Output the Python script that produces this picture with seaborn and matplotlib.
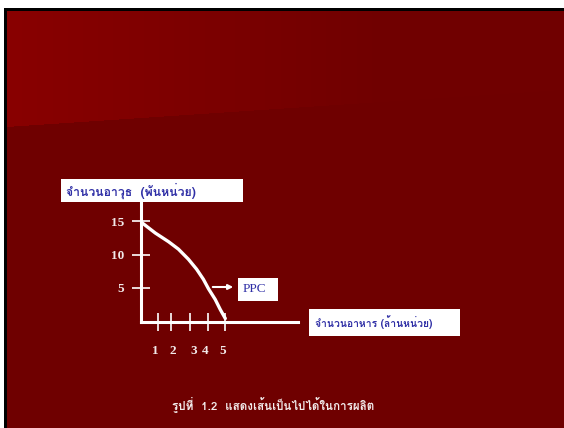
import numpy as np
import pandas as pd
import matplotlib
matplotlib.use("Agg")
import matplotlib.pyplot as plt
import seaborn as sns
from matplotlib import font_manager
from matplotlib.patches import Rectangle, FancyArrowPatch

# ---- data ----
food = [0.0, 0.85, 1.64, 2.22, 2.81, 3.3, 3.7, 4.0, 4.4, 4.7, 5.0]        # ล้านหน่วย
weapons = [14.85, 13.2, 11.9, 10.8, 9.3, 7.8, 6.3, 4.9, 3.3, 1.8, 0.45]   # พันหน่วย
x_tick_marks = [1.0, 1.8, 2.9, 3.98, 5.0]
x_label_pos = [0.83, 1.9, 3.15, 3.8, 4.82]
x_labels = ["1", "2", "3", "4", "5"]
y_ticks = [5, 10, 15]
y_labels = ["5", "10", "15"]
y_title = "จำนวนอาวุธ  (พันหน่วย)"
x_title = "จำนวนอาหาร (ล้านหน่วย)"
curve_name = "PPC"
caption = "รูปที่  1.2  แสดงเส้นเป็นไปได้ในการผลิต"

# ---- find a font with Thai glyphs (prefer one with a bold face) ----
def find_thai_font():
    try:
        from fontTools.ttLib import TTFont
    except Exception:
        return None
    weights = {}
    for f in font_manager.fontManager.ttflist:
        try:
            tt = TTFont(f.fname, fontNumber=0, lazy=True)
            cmap = tt.getBestCmap()
            if cmap and 0x0E08 in cmap and 0x0E33 in cmap:
                w = f.weight if isinstance(f.weight, int) else 400
                weights.setdefault(f.name, set()).add(w)
        except Exception:
            pass
    if not weights:
        return None
    pref = ["Norasi", "Noto Serif Thai", "Kinnari", "TH Sarabun New", "Loma",
            "Noto Sans Thai", "Garuda", "Tlwg Typo"]
    bold = [n for n in weights if max(weights[n]) >= 600]
    for p in pref:
        if p in bold:
            return p
    if bold:
        return bold[0]
    for p in pref:
        if p in weights:
            return p
    return next(iter(weights))

thai = find_thai_font()
thai_fam = ([thai] if thai else []) + ["Liberation Serif", "DejaVu Sans"]
serif = ["Liberation Serif", "DejaVu Serif"]

sns.set_theme(style="white")
plt.rcParams["font.family"] = serif

W, H = 564, 428
fig = plt.figure(figsize=(W / 100, H / 100), dpi=100)
fig.patch.set_facecolor("white")

# ---- slide background ----
bg = fig.add_axes([0, 0, 1, 1], zorder=0)
X, Y = np.meshgrid(np.arange(W) + 0.5, np.arange(H) + 0.5)
c_left = np.array([0x89, 0x00, 0x00]) / 255
c_right = np.array([0x70, 0x00, 0x00]) / 255
c_low = np.array([0x6f, 0x00, 0x00]) / 255
t = np.clip((X - 7) / 380.0, 0, 1)[..., None]
grad = c_left * (1 - t) + c_right * t
boundary = 127 - 0.0667 * (X - 7)
img = np.where((Y < boundary)[..., None], grad, c_low)
img[(X < 7) | (Y < 11)] = 0.0
img[(X < 4) | (Y < 8)] = 1.0
bg.imshow(img, extent=(0, W, H, 0), aspect="auto", interpolation="nearest")
bg.set_xlim(0, W)
bg.set_ylim(H, 0)
bg.axis("off")

# ---- chart axes ----
px_x, px_y = 16.86, 6.7
x0, y0 = 141, 321.5
ax_w, ax_h = 157, 120.5
ax = fig.add_axes([x0 / W, (H - y0) / H, ax_w / W, ax_h / H], zorder=2)
ax.patch.set_alpha(0)
df = pd.DataFrame({"food": food, "weapons": weapons})
sns.lineplot(data=df, x="food", y="weapons", sort=False, color="white",
             linewidth=2.4, ax=ax)
ax.set_xlim(0, ax_w / px_x)
ax.set_ylim(0, ax_h / px_y)
for s in ["top", "right"]:
    ax.spines[s].set_visible(False)
for s in ["left", "bottom"]:
    ax.spines[s].set_color("white")
    ax.spines[s].set_linewidth(2.2)
ax.set_xlabel("")
ax.set_ylabel("")

ax.set_xticks(x_tick_marks, minor=True)
ax.set_xticks(x_label_pos)
ax.set_xticklabels(x_labels)
ax.tick_params(axis="x", which="major", length=0, pad=17, labelsize=9.5,
               labelcolor="#f2eaea")
ax.tick_params(axis="x", which="minor", direction="inout", length=12.5,
               width=1.2, color="white", bottom=True)
ax.set_yticks(y_ticks)
ax.set_yticklabels(y_labels)
ax.tick_params(axis="y", which="major", direction="inout", length=13.5,
               width=1.2, color="white", left=True, pad=5.5, labelsize=9.5,
               labelcolor="#f2eaea")
for lab in ax.get_xticklabels() + ax.get_yticklabels():
    lab.set_fontweight("bold")
    lab.set_family(serif)

# ---- overlay: boxes, texts, arrow ----
ov = fig.add_axes([0, 0, 1, 1], zorder=5)
ov.set_xlim(0, W)
ov.set_ylim(H, 0)
ov.axis("off")
ov.patch.set_alpha(0)
blue = "#2f2fa6"
ov.add_patch(Rectangle((61, 179), 182, 23, facecolor="white", edgecolor="none"))
ov.text(66, 191, y_title, color=blue, fontsize=8.8, fontweight="bold",
        family=thai_fam, ha="left", va="center")
ov.add_patch(Rectangle((238, 278), 40, 23, facecolor="white", edgecolor="none"))
ov.text(243, 289.5, curve_name, color=blue, fontsize=9.5, family=serif,
        ha="left", va="center")
ov.add_patch(Rectangle((309, 309), 151, 27, facecolor="white", edgecolor="none"))
ov.text(315, 322.5, x_title, color=blue, fontsize=7.4, fontweight="bold",
        family=thai_fam, ha="left", va="center")
ov.add_patch(FancyArrowPatch((210, 287), (236, 287), arrowstyle="-|>",
                             mutation_scale=7, color="white", lw=1.5))
ov.text(273, 404, caption, color="#f2eaea", fontsize=8.4, fontweight="bold",
        family=thai_fam, ha="center", va="center")

fig.savefig("out.png", dpi=100, facecolor=fig.get_facecolor())
